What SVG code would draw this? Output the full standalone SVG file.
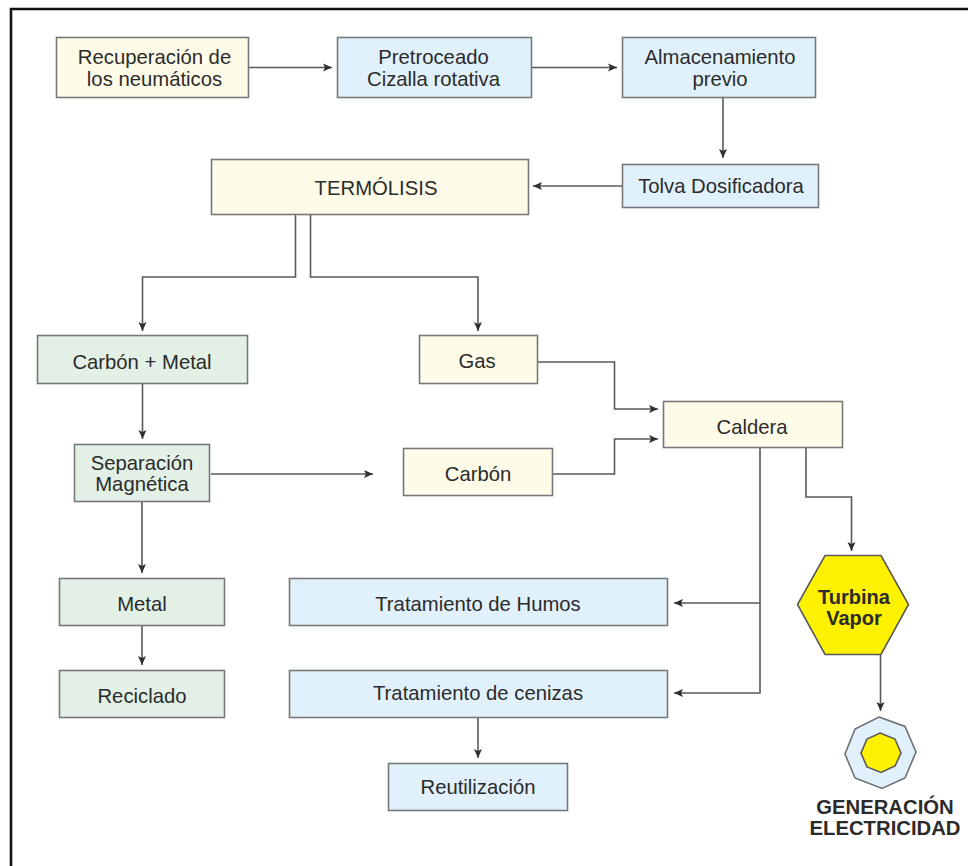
<svg xmlns="http://www.w3.org/2000/svg" width="968" height="866" viewBox="0 0 968 866">
<style>
text{font-family:"Liberation Sans",Arial,sans-serif;font-size:20.300px;fill:#2b2b2b;text-anchor:middle}
.b{stroke:#77787a;stroke-width:1.6}
.y{fill:#fefbe8}.l{fill:#e1f1fb}.g{fill:#e3f0e5}
.c path{fill:none;stroke:#58595b;stroke-width:1.6;marker-end:url(#a)}
.h{font-weight:bold}
</style>
<defs><marker id="a" markerUnits="userSpaceOnUse" markerWidth="10" markerHeight="10" refX="9" refY="5" orient="auto"><path d="M0 1L9 5L0 9L2 5Z" fill="#2f2f30"/></marker></defs>
<rect width="968" height="866" fill="#fff"/>
<path d="M11 866V9H968" fill="none" stroke="#111" stroke-width="2.6"/>
<g class="c" id="connectors">
<path d="M249 67.500H332"/>
<path d="M532 67.500H617"/>
<path d="M723 98V158"/>
<path d="M623 186H533"/>
<path d="M295.500 215V277H142.500V331"/>
<path d="M310.500 215V277H478V331"/>
<path d="M142.500 384V439"/>
<path d="M538 362H614.500V409H658"/>
<path d="M211 474H373"/>
<path d="M553 474H614.500V439H658"/>
<path d="M142 502V573"/>
<path d="M142 626V665"/>
<path d="M760 448V603H674"/>
<path d="M760 603V693H674"/>
<path d="M806 448V497H851.500V551"/>
<path d="M880.500 655V711"/>
<path d="M478 717V758"/>
</g>
<g id="n1"><rect class="b y" x="56.500" y="37.500" width="192" height="60"/><text x="154.500" y="64">Recuperación de</text><text x="154.500" y="86">los neumáticos</text></g>
<g id="n2"><rect class="b l" x="337.500" y="37.500" width="194" height="60"/><text x="433.500" y="64">Pretroceado</text><text x="433.500" y="86">Cizalla rotativa</text></g>
<g id="n3"><rect class="b l" x="622.500" y="37.500" width="193" height="60"/><text x="720" y="64">Almacenamiento</text><text x="720" y="86">previo</text></g>
<g id="n4"><rect class="b l" x="622.500" y="164.500" width="196" height="43"/><text x="721" y="193">Tolva Dosificadora</text></g>
<g id="n5"><rect class="b y" x="211.500" y="159.500" width="317" height="55"/><text x="376" y="195">TERMÓLISIS</text></g>
<g id="n6"><rect class="b g" x="37.500" y="335.500" width="210" height="48"/><text x="142" y="369">Carbón + Metal</text></g>
<g id="n7"><rect class="b y" x="419.500" y="335.500" width="118" height="48"/><text x="477" y="368">Gas</text></g>
<g id="n8"><rect class="b y" x="663.500" y="401.500" width="179" height="46"/><text x="752" y="434">Caldera</text></g>
<g id="n9"><rect class="b g" x="74.500" y="444.500" width="135" height="57"/><text x="142" y="470">Separación</text><text x="142" y="491">Magnética</text></g>
<g id="n10"><rect class="b y" x="403.500" y="448.500" width="149" height="47"/><text x="478" y="481">Carbón</text></g>
<g id="n11"><rect class="b g" x="59.500" y="578.500" width="165" height="47"/><text x="142" y="611">Metal</text></g>
<g id="n12"><rect class="b l" x="289.500" y="578.500" width="378" height="47"/><text x="478" y="611">Tratamiento de Humos</text></g>
<g id="n13"><rect class="b g" x="59.500" y="670.500" width="165" height="47"/><text x="142" y="703">Reciclado</text></g>
<g id="n14"><rect class="b l" x="289.500" y="670.500" width="378" height="47"/><text x="478" y="700">Tratamiento de cenizas</text></g>
<g id="n15"><rect class="b l" x="388.500" y="763.500" width="179" height="47"/><text x="478" y="794">Reutilización</text></g>
<g id="n16"><polygon points="825,555.500 881,555.500 908.500,604.500 881,654.500 825,654.500 797.500,604.500" fill="#fff200" stroke="#58595b" stroke-width="1.6"/><text class="h" x="854" y="604" style="font-size:20px">Turbina</text><text class="h" x="854" y="625" style="font-size:20px">Vapor</text></g>
<g id="n17"><polygon points="879,717 905,726.500 916,752 905,778 882,788.500 855,778 845,754 855,729" class="l" stroke="#6d6e71" stroke-width="1.600"/><polygon points="880,733 895,739 901,753 895,766 881,772.500 867,767 861,753 867,739" fill="#fff200" stroke="#58595b" stroke-width="1.600"/><text class="h" x="885" y="814" style="font-size:20.300px">GENERACIÓN</text><text class="h" x="885" y="835" style="font-size:20.300px">ELECTRICIDAD</text></g>
</svg>
